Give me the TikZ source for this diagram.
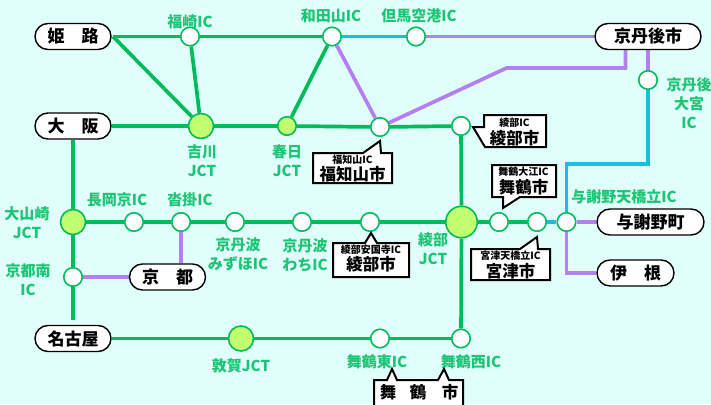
\documentclass[tikz,border=0pt]{standalone}
\usepackage{fontspec}
\usetikzlibrary{backgrounds}
\setmainfont{Noto Sans CJK JP}
\definecolor{bgc}{HTML}{E0FFFA}
\definecolor{grn}{HTML}{00BB5C}
\definecolor{pur}{HTML}{B280F0}
\definecolor{blu}{HTML}{18C0E0}
\definecolor{lim}{HTML}{C0FF70}
\definecolor{lab}{HTML}{1CC474}
\tikzset{
 x=1pt,y=-1pt,
 gline/.style={draw=grn,line width=3.7pt},
 pline/.style={draw=pur,line width=3.7pt},
 bline/.style={draw=blu,line width=3.7pt},
 ic/.style={circle,draw=grn,line width=1.6pt,fill=white,minimum size=18.5pt,inner sep=0pt},
 jm/.style={circle,draw=grn,line width=1.6pt,fill=lim,minimum size=18.5pt,inner sep=0pt},
 jl/.style={circle,draw=grn,line width=1.6pt,fill=lim,minimum size=25pt,inner sep=0pt},
 jx/.style={circle,draw=grn,line width=1.6pt,fill=lim,minimum size=31.5pt,inner sep=0pt},
 term/.style={rounded corners=13pt,draw=black,line width=1.4pt,fill=white,minimum height=26pt,inner sep=0pt,font=\fontsize{17}{17}\selectfont\bfseries,text=black},
 lbl/.style={text=lab,font=\fontsize{15}{19}\selectfont\bfseries,align=center,inner sep=0pt,yshift=-0.8pt},
 tagbox/.style={draw=black,line width=2pt,fill=white,miter limit=10},
 small/.style={text=black,font=\fontsize{10}{10}\selectfont\bfseries,inner sep=0pt},
 big/.style={text=black,font=\fontsize{16.5}{17}\selectfont\bfseries,inner sep=0pt},
}
\begin{document}
\begin{tikzpicture}
\useasboundingbox (0,0) rectangle (711,404);
% terminals
\node[term,minimum width=76pt] (himeji) at (73,36.5) {姫\hspace{1em}路};
\node[term,minimum width=76pt] (osaka) at (73,126) {大\hspace{1em}阪};
\node[term,minimum width=76pt] (nagoya) at (73,338.5) {名古屋};
\node[term,minimum width=76pt] (kyoto) at (167.5,277) {京\hspace{1em}都};
\node[term,minimum width=106pt] (kyotango) at (648,36.5) {京丹後市};
\node[term,minimum width=107pt] (yosano) at (650.5,222) {与謝野町};
\node[term,minimum width=77pt] (ine) at (635.5,273) {伊\hspace{1em}根};
% stations
\node[ic] (fukusaki) at (190,36.5) {};
\node[ic] (wadayama) at (332,36.5) {};
\node[ic] (tajima) at (416,36.5) {};
\node[jl] (yokawa) at (201,126) {};
\node[jm] (kasuga) at (287,126) {};
\node[ic] (fukuchiyama) at (380,127) {};
\node[ic] (ayabeic) at (461,126) {};
\node[ic] (omiya) at (648,80) {};
\node[jl] (oyamazaki) at (73,222) {};
\node[ic] (nagaokakyo) at (134,222) {};
\node[ic] (kutsukake) at (181,222) {};
\node[ic] (mizuho) at (235,222) {};
\node[ic] (wachi) at (302,222) {};
\node[ic] (ankokuji) at (370,222) {};
\node[jx] (ayabej) at (461.5,222) {};
\node[ic] (oe) at (499,222) {};
\node[ic] (miyazu) at (537,222) {};
\node[ic] (amanohashidate) at (566.5,222) {};
\node[ic] (kyotominami) at (73,277) {};
\node[jl] (tsuruga) at (241,338.5) {};
\node[ic] (maizuruhigashi) at (380,338.5) {};
\node[ic] (maizurunishi) at (461,338.5) {};
\coordinate (nagoyaend) at (73,320);
\coordinate (himejir) at (113,36.5);
\coordinate (bend1) at (506.5,68);
\coordinate (bend2) at (625.5,68);
\coordinate (bend3) at (648,164);
\coordinate (bend4) at (566.5,164);
\coordinate (bend5) at (566.5,273);
% connectors under the nodes
\begin{pgfonlayer}{background}
\fill[bgc] (0,0) rectangle (711,404);
\draw[gline] (himejir) -- (fukusaki);
\draw[gline] (fukusaki) -- (wadayama);
\draw[gline] (himejir) -- (yokawa);
\draw[gline] (fukusaki) -- (yokawa);
\draw[gline] (osaka) -- (yokawa);
\draw[gline] (yokawa) -- (kasuga);
\draw[gline] (kasuga) -- (wadayama);
\draw[gline] (kasuga) -- (fukuchiyama);
\draw[gline] (fukuchiyama) -- (ayabeic);
\draw[gline] (ayabeic) -- (ayabej);
\draw[gline] (ayabej) -- (maizurunishi);
\draw[gline] (osaka) -- (oyamazaki);
\draw[gline] (oyamazaki) -- (kyotominami);
\draw[gline] (kyotominami) -- (nagoyaend);
\draw[gline] (oyamazaki) -- (nagaokakyo);
\draw[gline] (nagaokakyo) -- (kutsukake);
\draw[gline] (kutsukake) -- (mizuho);
\draw[gline] (mizuho) -- (wachi);
\draw[gline] (wachi) -- (ankokuji);
\draw[gline] (ankokuji) -- (ayabej);
\draw[gline] (ayabej) -- (oe);
\draw[gline] (oe) -- (miyazu);
\draw[gline] (nagoya) -- (tsuruga);
\draw[gline] (tsuruga) -- (maizuruhigashi);
\draw[gline] (maizuruhigashi) -- (maizurunishi);
\draw[bline] (wadayama) -- (tajima);
\draw[pline] (tajima) -- (kyotango);
\draw[pline] (wadayama) -- (fukuchiyama);
\draw[pline] (fukuchiyama.center) -- (bend1) -- (bend2) -- (bend2 |- kyotango.south);
\draw[pline] (kyotango) -- (omiya);
\draw[bline] (omiya) -- (bend3) -- (bend4) -- (amanohashidate);
\draw[bline] (miyazu) -- (amanohashidate);
\draw[pline] (amanohashidate) -- (yosano);
\draw[pline] (amanohashidate) -- (bend5) -- (ine);
\draw[pline] (kutsukake) -- (kutsukake |- kyoto.north);
\draw[pline] (kyotominami) -- (kyoto);
\end{pgfonlayer}
% station labels
\node[lbl] (t1) at (190,21) {福崎IC};
\node[lbl] (t2) at (331,15) {和田山IC};
\node[lbl] (t3) at (419,15) {但馬空港IC};
\node[lbl] (t4) at (202,160) {吉川\\JCT};
\node[lbl] (t5) at (287,160) {春日\\JCT};
\node[lbl] (t6) at (689,102) {京丹後\\大宮\\IC};
\node[lbl] (t7) at (117,199) {長岡京IC};
\node[lbl] (t8) at (190,199) {沓掛IC};
\node[lbl] (t9) at (27,222) {大山崎\\JCT};
\node[lbl] (t10) at (28,279) {京都南\\IC};
\node[lbl] (t11) at (238,254) {京丹波\\みずほIC};
\node[lbl] (t12) at (305,254) {京丹波\\わちIC};
\node[lbl] (t13) at (433,248) {綾部\\JCT};
\node[lbl] (t14) at (624,196) {与謝野天橋立IC};
\node[lbl] (t15) at (241,365) {敦賀JCT};
\node[lbl] (t16) at (377,361) {舞鶴東IC};
\node[lbl] (t17) at (471,361) {舞鶴西IC};
% callouts
\draw[tagbox] (313,153) -- (363,153) -- (380,141) -- (381,153) -- (392,153) -- (392,183) -- (313,183) -- cycle;
\node[small] (c1a) at (352.5,160) {福知山IC};
\node[big] (c1b) at (352.5,174) {福知山市};
\draw[tagbox] (484,115) -- (546,115) -- (546,147) -- (485,147) -- (473,127) -- (484,127) -- cycle;
\node[small] (c2a) at (514.5,123) {綾部IC};
\node[big] (c2b) at (514.5,138) {綾部市};
\draw[tagbox] (492,165) -- (556,165) -- (556,197) -- (520,197) -- (503,208) -- (503,197) -- (492,197) -- cycle;
\node[small] (c3a) at (523.5,172) {舞鶴大江IC};
\node[big] (c3b) at (523.5,187) {舞鶴市};
\draw[tagbox] (333,243) -- (365,243) -- (371,233) -- (377,243) -- (409,243) -- (409,277) -- (333,277) -- cycle;
\node[small] (c4a) at (371,250) {綾部安国寺IC};
\node[big] (c4b) at (371,264) {綾部市};
\draw[tagbox] (471,249) -- (520,249) -- (537,237) -- (538,249) -- (550,249) -- (550,280) -- (471,280) -- cycle;
\node[small] (c5a) at (510.5,256) {宮津天橋立IC};
\node[big] (c5b) at (510.5,271) {宮津市};
\draw[tagbox] (374,380) -- (387,380) -- (392,369) -- (397,380) -- (438,380) -- (444,369) -- (449,380) -- (463,380) -- (463,410) -- (374,410) -- cycle;
\node[big] (c6a) at (388,392) {舞};
\node[big] (c6b) at (418,392) {鶴};
\node[big] (c6c) at (450,392) {市};
\end{tikzpicture}
\end{document}
